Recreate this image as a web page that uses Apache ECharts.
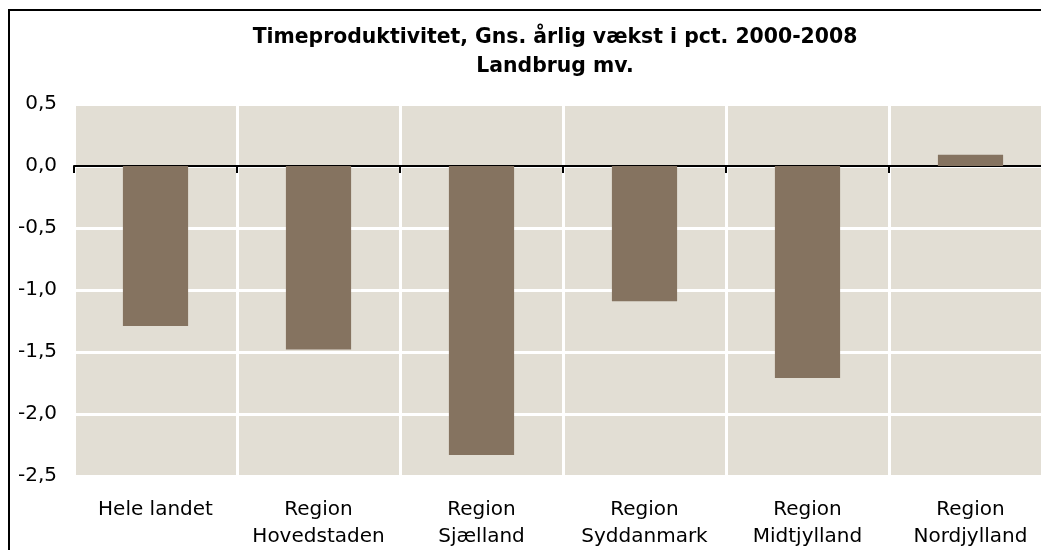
<!DOCTYPE html>
<html>
<head>
<meta charset="utf-8">
<script src="https://cdn.jsdelivr.net/npm/echarts@6/dist/echarts.min.js"></script>
<style>
html,body{margin:0;padding:0;background:#fff;overflow:hidden;width:1041px;height:550px;}
#chart{width:1070px;height:550px;}
</style>
</head>
<body>
<div id="chart"></div>
<script>
const titleLines = ['Timeproduktivitet, Gns. årlig vækst i pct. 2000-2008', 'Landbrug mv.'];
const categories = ['Hele landet', 'Region\nHovedstaden', 'Region\nSjælland', 'Region\nSyddanmark', 'Region\nMidtjylland', 'Region\nNordjylland'];
const values = [-1.29, -1.48, -2.33, -1.09, -1.71, 0.09];
const yMin = -2.5, yMax = 0.5, yStep = 0.5;

const FONT = 'DejaVu Sans';
const chart = echarts.init(document.getElementById('chart'), null, {renderer: 'canvas'});
chart.setOption({
  animation: false,
  backgroundColor: '#ffffff',
  graphic: [
    {type: 'rect', z: 100, shape: {x: 9, y: 10, width: 1100, height: 600},
     style: {fill: 'none', stroke: '#000', lineWidth: 2}},
    {type: 'text', z: 100, x: 555, y: 52,
     style: {text: titleLines.join('\n'), align: 'center', verticalAlign: 'middle',
             font: 'bold 20.4px "DejaVu Sans"', lineHeight: 29, fill: '#000'}}
  ],
  grid: {left: 74, top: 104, width: 978, height: 373, show: true,
         backgroundColor: '#e2ded4', borderWidth: 0, containLabel: false},
  xAxis: [
    {type: 'category', data: categories, position: 'bottom',
     axisLine: {show: false, onZero: false}, axisTick: {show: false},
     splitLine: {show: true, interval: 0, lineStyle: {color: '#ffffff', width: 3}},
     axisLabel: {interval: 0, margin: 20, fontFamily: FONT, fontSize: 20, lineHeight: 27, color: '#000'}},
    {type: 'category', data: categories, position: 'bottom',
     axisLine: {show: true, onZero: true, lineStyle: {color: '#000', width: 2}},
     axisTick: {show: true, length: 7, lineStyle: {color: '#000', width: 2}, interval: 0},
     axisLabel: {show: false}, splitLine: {show: false}}
  ],
  yAxis: {type: 'value', min: yMin, max: yMax, interval: yStep,
    axisLine: {show: false}, axisTick: {show: false},
    splitLine: {show: true, lineStyle: {color: '#ffffff', width: 3}},
    axisLabel: {margin: 17, fontFamily: FONT, fontSize: 20, color: '#000',
      formatter: v => v.toFixed(1).replace('.', ',')}},
  series: [{type: 'bar', data: values, barWidth: '40%', xAxisIndex: 0,
    itemStyle: {color: '#857360'}, z: 2}]
});
</script>
</body>
</html>
